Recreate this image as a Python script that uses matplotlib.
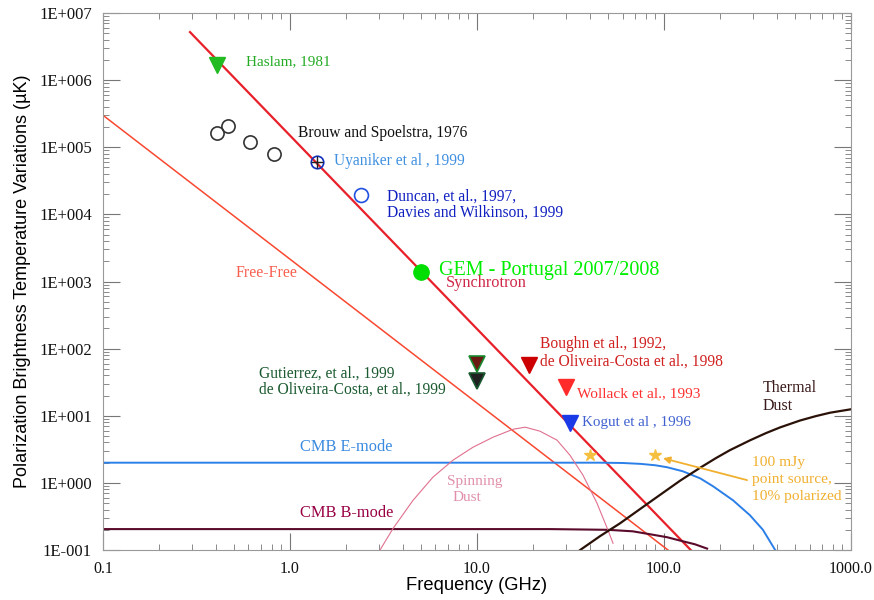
import math
import matplotlib
matplotlib.use("Agg")
import matplotlib.pyplot as plt
from matplotlib.ticker import LogLocator, FuncFormatter, NullFormatter

# power-law foregrounds (two end points each, GHz / uK)
sync_freq = [0.292, 139.0]
sync_temp = [5.2e6, 0.1]
ff_freq = [0.1, 105.0]
ff_temp = [3.0e5, 0.1]

# curves
emode_freq = [0.1, 24.5, 45.5, 60, 75, 90, 104, 126, 156, 183, 234, 288, 338, 393]
emode_temp = [2.0, 2.0, 2.0, 1.98, 1.92, 1.83, 1.71, 1.49, 1.17, 0.89, 0.55, 0.33, 0.20, 0.10]
bmode_freq = [0.1, 24.5, 50, 68, 84, 104, 126, 146, 170]
bmode_temp = [0.205, 0.205, 0.20, 0.19, 0.172, 0.155, 0.135, 0.122, 0.105]
spin_freq = [3.03, 3.56, 4.55, 5.82, 7.44, 9.52, 12.2, 15.6, 18.1, 21.7,
             26.8, 31.4, 36.9, 43.8, 50.2, 53.4]
spin_temp = [0.1, 0.21, 0.55, 1.22, 2.18, 3.4, 4.8, 6.3, 6.76, 5.9,
             4.33, 2.59, 1.3, 0.5, 0.197, 0.126]
dust_freq = [35.6, 45.5, 58.2, 84.2, 122, 156, 190, 225, 288, 350, 417, 534, 650, 772, 1000]
dust_temp = [0.1, 0.161, 0.25, 0.52, 1.08, 1.68, 2.35, 3.07, 4.3, 5.5, 6.7, 8.5, 9.9, 11.1, 12.5]

# measurements
haslam = (0.408, 1.7e6)
brouw_freq = [0.408, 0.465, 0.61, 0.82]
brouw_temp = [1.63e5, 2.07e5, 1.2e5, 7.9e4]
uyaniker = (1.4, 6.0e4)
duncan = (2.4, 1.94e4)
gem = (5.0, 1.38e3)
gutierrez_freq = [10.0, 10.0]
gutierrez_temp = [58.7, 32.8]
boughn = (19.0, 56.8)
wollack = (30.0, 26.7)
kogut = (31.5, 7.8)
star_freq = [40.0, 90.0]
star_temp = [2.6, 2.6]

SERIF = "Liberation Serif"
SANS = "Liberation Sans"

fig = plt.figure(figsize=(8.74, 6.0), dpi=100)
ax = fig.add_axes([0.1178, 0.0833, 0.8559, 0.895])
ax.set_xscale("log")
ax.set_yscale("log")
ax.set_xlim(0.1, 1000)
ax.set_ylim(0.1, 1e7)

# foreground curves
ax.plot(sync_freq, sync_temp, color="#e8202a", lw=1.6)
ax.plot(ff_freq, ff_temp, color="#f84830", lw=1.1)
ax.plot(emode_freq, emode_temp, color="#2b7fe8", lw=1.4)
ax.plot(bmode_freq, bmode_temp, color="#5a0a2a", lw=1.5)
ax.plot(spin_freq, spin_temp, color="#e0708f", lw=0.8)
ax.plot(dust_freq, dust_temp, color="#2a1208", lw=1.6)

# data points
ax.plot(*haslam, "v", color="#22bb22", ms=12)
ax.plot(brouw_freq, brouw_temp, "o", mfc="none", mec="#333333", mew=1.2, ms=9.5)
ax.plot(*uyaniker, "o", mfc="none", mec="#1030c0", mew=1.2, ms=9)
ax.plot(*uyaniker, "+", color="#202020", mew=1.0, ms=8)
ax.plot(*duncan, "o", mfc="none", mec="#2050e0", mew=1.2, ms=10)
ax.plot(*gem, "o", color="#00dd00", ms=11)
ax.plot(gutierrez_freq[0], gutierrez_temp[0], "v", mfc="#6a1a10", mec="#1a8a30", mew=1.2, ms=11)
ax.plot(gutierrez_freq[1], gutierrez_temp[1], "v", mfc="#202020", mec="#1a5a30", mew=1.2, ms=11)
ax.plot(*boughn, "v", color="#cc0000", ms=12)
ax.plot(*wollack, "v", color="#ff2a2a", ms=12)
ax.plot(*kogut, "v", color="#1a3ae8", ms=11)
ax.plot(star_freq, star_temp, "*", color="#f5c040", ms=9)


def label(x, y, s, color, size=11.2, family=SERIF, **kw):
    ax.text(x, y, s, color=color, fontsize=size, family=family, va="center", **kw)


label(0.582, 1.86e6, "Haslam, 1981", "#22aa22", size=10.9)
label(1.10, 1.63e5, "Brouw and Spoelstra, 1976", "#111111")
label(1.72, 6.2e4, "Uyaniker et al , 1999", "#4090e0")
label(3.30, 1.87e4, "Duncan, et al., 1997,", "#1020c0")
label(3.30, 1.08e4, "Davies and Wilkinson, 1999", "#1020c0")
label(6.26, 1.48e3, "GEM - Portugal 2007/2008", "#00ee00", size=14.5)
label(6.83, 950, "Synchrotron", "#d02848", size=11.8)
label(0.514, 1.33e3, "Free-Free", "#f86050", size=11.5)
label(0.683, 43.1, "Gutierrez, et al., 1999", "#1a5a30")
label(0.683, 24.1, "de Oliveira-Costa, et al., 1999", "#1a5a30")
label(21.7, 117, "Boughn et al., 1992,", "#d02020")
label(21.7, 63.0, "de Oliveira-Costa et al., 1998", "#d02020")
label(34.3, 21.0, "Wollack et al., 1993", "#ff3030", size=11.1)
label(36.4, 8.03, "Kogut et al , 1996", "#4060d0", size=10.9)
label(338, 25.8, "Thermal", "#3a1a1a", size=11.5)
label(338, 13.9, "Dust", "#3a1a1a", size=11.5)
label(296, 2.04, "100 mJy", "#f0b030", size=11.1)
label(296, 1.135, "point source,", "#f0b030", size=11.1)
label(296, 0.634, "10% polarized", "#f0b030", size=11.1)
label(1.13, 3.40, "CMB E-mode", "#3a8ae0", size=11.8)
label(1.13, 0.353, "CMB B-mode", "#990044", size=11.8)
label(6.91, 1.06, "Spinning", "#e090a8", size=11)
label(7.44, 0.612, "Dust", "#e090a8", size=11)

ax.annotate("", xy=(98.8, 2.33), xytext=(278, 1.10),
            arrowprops=dict(arrowstyle="-|>", color="#f0b030", lw=1.3,
                            mutation_scale=10, shrinkA=0, shrinkB=0))

# axes styling
for sp in ax.spines.values():
    sp.set_color("#999999")
    sp.set_linewidth(0.8)

ax.xaxis.set_major_locator(LogLocator(base=10, numticks=10))
ax.xaxis.set_minor_locator(LogLocator(base=10, subs=range(2, 10), numticks=50))
ax.yaxis.set_major_locator(LogLocator(base=10, numticks=20))
ax.yaxis.set_minor_locator(LogLocator(base=10, subs=range(2, 10), numticks=100))
ax.xaxis.set_minor_formatter(NullFormatter())
ax.yaxis.set_minor_formatter(NullFormatter())
ax.xaxis.set_major_formatter(FuncFormatter(lambda v, p: f"{v:.1f}"))
ax.yaxis.set_major_formatter(
    FuncFormatter(lambda v, p: "1E{:+04d}".format(int(round(math.log10(v))))))

ax.tick_params(which="both", direction="in", top=True, right=True, colors="#777777",
               labelcolor="#111111")
ax.tick_params(which="major", length=12, width=0.8)
ax.tick_params(which="minor", length=4.5, width=0.6)
ax.tick_params(axis="x", labelsize=11.5, pad=8)
ax.tick_params(axis="y", labelsize=12, pad=8)
for t in ax.get_xticklabels() + ax.get_yticklabels():
    t.set_family(SERIF)

ax.set_xlabel("Frequency (GHz)", family=SANS, fontsize=13.2, labelpad=0)
ax.set_ylabel("Polarization Brightness Temperature Variations (\u00b5K)",
              family=SANS, fontsize=13, labelpad=6)

fig.savefig("out.png", dpi=100)
